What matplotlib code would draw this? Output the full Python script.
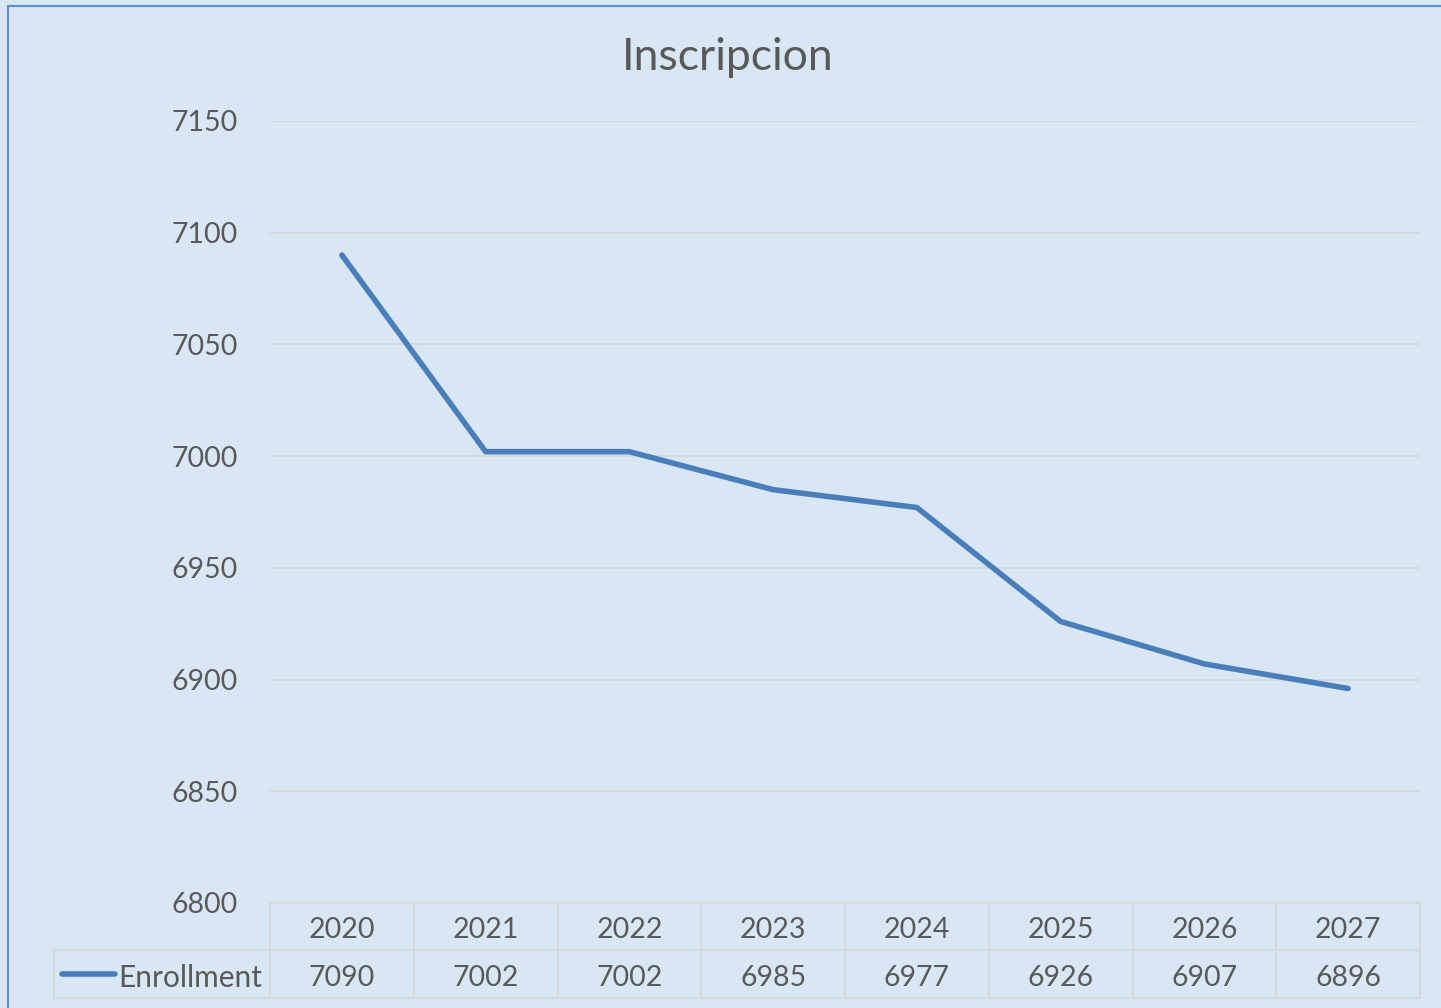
import numpy as np
from matplotlib import pyplot as plt
from matplotlib.patches import Rectangle

# data
years = ['2020', '2021', '2022', '2023', '2024', '2025', '2026', '2027']
enrollment = [7090, 7002, 7002, 6985, 6977, 6926, 6907, 6896]
yticks = [6800, 6850, 6900, 6950, 7000, 7050, 7100, 7150]
title = 'Inscripcion'
series_name = 'Enrollment'

txtcol = '#595959'
linecol = '#4a7ebb'
gridcol = '#d6d9dc'
plt.rcParams['font.family'] = ['Lato', 'DejaVu Sans']

W, H = 1441, 1008
fig = plt.figure(figsize=(W/100, H/100), dpi=100)
fig.patch.set_facecolor('#d9e7f5')

# outer border like the excel chart area
fig.add_artist(Rectangle((8/W, -0.1), 1.2, (1003+100)/H - 0.0, transform=fig.transFigure,
                         fill=False, edgecolor='#5b8fd0', lw=1.5))

left, right, top, bottom = 270, 1420, 121, 903
ax = fig.add_axes([left/W, 1-bottom/H, (right-left)/W, (bottom-top)/H])
ax.patch.set_alpha(0)

x = np.arange(len(years))
ax.plot(x, enrollment, color=linecol, lw=4.0, solid_capstyle='round', solid_joinstyle='round', zorder=3)

ax.set_xlim(-0.5, len(years)-0.5)
ax.set_ylim(yticks[0], yticks[-1])
ax.set_yticks(yticks)
ax.set_yticklabels([str(v) for v in yticks], fontsize=20.5, color=txtcol)
ax.tick_params(axis='y', length=0, pad=23)
ax.set_xticks([])
for sp in ax.spines.values():
    sp.set_visible(False)
ax.grid(axis='y', color=gridcol, lw=1.5)
ax.set_axisbelow(True)

fig.text(0.505, 1-58/H, title, ha='center', va='center', fontsize=32, color=txtcol)

# data table under the plot
ph = bottom - top
n = len(years)
r1 = -47/ph
r2 = -95/ph
xl = (54-left)/(right-left)
dy = -4/ph
tk = dict(transform=ax.transAxes, clip_on=False, color=gridcol, lw=1.5)
ax.plot([0, 1], [0, 0], **tk)
ax.plot([xl, 1], [r1, r1], **tk)
ax.plot([xl, 1], [r2, r2], **tk)
ax.plot([xl, xl], [r1, r2], **tk)
for i in range(n+1):
    ax.plot([i/n, i/n], [0, r2], **tk)
for i in range(n):
    ax.text((i+0.5)/n, r1/2+dy, years[i], transform=ax.transAxes, ha='center', va='center',
            fontsize=20.5, color=txtcol)
    ax.text((i+0.5)/n, (r1+r2)/2+dy, str(enrollment[i]), transform=ax.transAxes, ha='center',
            va='center', fontsize=20.5, color=txtcol)
lx0 = (62-left)/(right-left)
lx1 = (115-left)/(right-left)
ax.plot([lx0, lx1], [(r1+r2)/2]*2, transform=ax.transAxes, clip_on=False, color=linecol,
        lw=4.0, solid_capstyle='round')
ax.text(-0.007, (r1+r2)/2+dy, series_name, transform=ax.transAxes, ha='right', va='center',
        fontsize=21.5, color=txtcol)

plt.savefig('out.png', dpi=100, facecolor=fig.get_facecolor())
